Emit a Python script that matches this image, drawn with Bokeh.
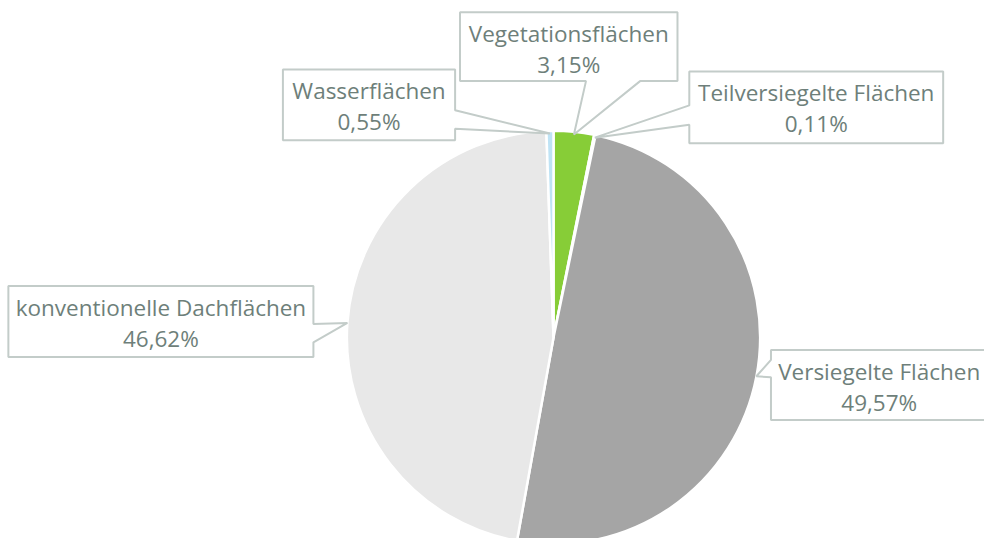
import math
from bokeh.plotting import figure
from bokeh.models import Range1d, ColumnDataSource
from bokeh.core.properties import value
from bokeh.embed import file_html
from bokeh.resources import INLINE

# ---- data ----
categories = ["Vegetationsflächen", "Teilversiegelte Flächen", "Versiegelte Flächen",
              "konventionelle Dachflächen", "Wasserflächen"]
shares = [3.15, 0.11, 49.57, 46.62, 0.55]
colors = ["#87CD37", "#F4F4F4", "#A5A5A5", "#E8E8E8", "#BFE3F5"]

# ---- layout (reference pixels, y down) ----
W, H = 1000, 554
CX, CY, R = 562, 347, 210
# callout boxes: x0, y0, x1, y1, pointer edge, base a, base b
boxes = [
    (467, 12, 688, 83, "bottom", 595, 650),
    (700, 73, 958, 147, "left", 108, 128),
    (783, 360, 1004, 432, "left", 370, 388),
    (8, 294, 318, 367, "right", 333, 352),
    (287, 71, 462, 144, "right", 113, 132),
]

def Y(yp):
    return H - yp

p = figure(width=984, height=538, x_range=Range1d(0, W), y_range=Range1d(0, H),
           output_backend="svg", toolbar_location=None, min_border=0,
           x_axis_location=None, y_axis_location=None)
p.grid.visible = False
p.outline_line_color = None
p.background_fill_color = "white"
p.border_fill_color = "white"

total = sum(shares)
starts, ends, mids = [], [], []
cum = 0.0
for s in shares:
    a0 = math.pi / 2 - 2 * math.pi * cum / total
    cum += s
    a1 = math.pi / 2 - 2 * math.pi * cum / total
    starts.append(a0)
    ends.append(a1)
    mids.append((a0 + a1) / 2)

src = ColumnDataSource(dict(start=starts, end=ends, color=colors, cat=categories))
p.wedge(x=CX, y=Y(CY), radius=R, start_angle="start", end_angle="end", direction="clock",
        fill_color="color", line_color="white", line_width=2.5, source=src)

border = "#C3CCC9"
tcol = "#6E7F7A"
for i, (x0, y0, x1, y1, edge, a, b) in enumerate(boxes):
    tx = CX + R * math.cos(mids[i])
    ty = Y(CY) + R * math.sin(mids[i])
    if edge == "bottom":
        pts = [(x0, y0), (x1, y0), (x1, y1), (b, y1), None, (a, y1), (x0, y1)]
    elif edge == "right":
        pts = [(x0, y0), (x1, y0), (x1, a), None, (x1, b), (x1, y1), (x0, y1)]
    else:
        pts = [(x0, y0), (x1, y0), (x1, y1), (x0, y1), (x0, b), None, (x0, a)]
    xs, ys = [], []
    for pt in pts:
        if pt is None:
            xs.append(tx); ys.append(ty)
        else:
            xs.append(pt[0]); ys.append(Y(pt[1]))
    p.patch(xs, ys, fill_color="white", line_color=border, line_width=2)
    cx = (x0 + x1) / 2
    if x1 > W:
        cx = (x0 + 1003) / 2
    pct = f"{shares[i]:.2f}".replace(".", ",") + "%"
    p.text(x=[cx], y=[Y(y0 + 22)], text=[categories[i]], text_align="center",
           text_baseline="middle", text_color=tcol, text_font=value("Open Sans"),
           text_font_size="22.5px")
    p.text(x=[cx], y=[Y(y0 + 54)], text=[pct], text_align="center",
           text_baseline="middle", text_color=tcol, text_font=value("Open Sans"),
           text_font_size="22.5px")

open("out.html", "w").write(file_html(p, INLINE))
